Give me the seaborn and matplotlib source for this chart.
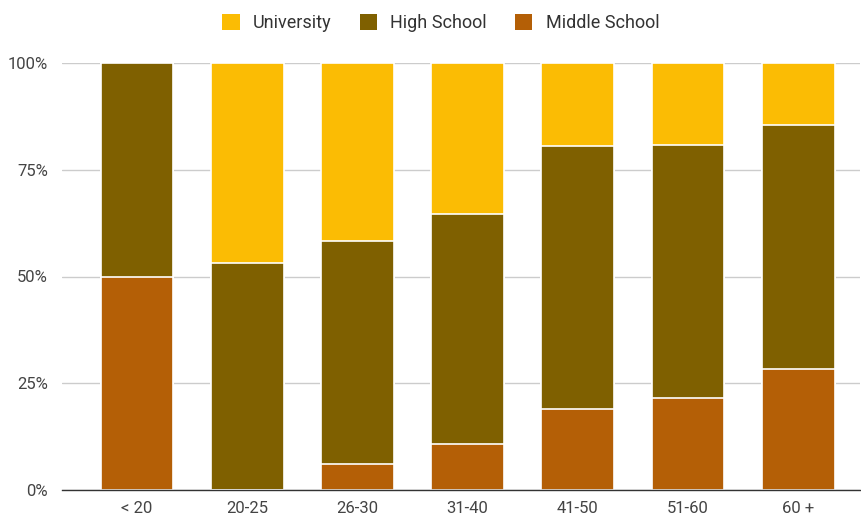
import matplotlib
matplotlib.use("Agg")
import matplotlib.pyplot as plt
import seaborn as sns
import pandas as pd
import numpy as np
from matplotlib.patches import Patch
from matplotlib.ticker import FuncFormatter

categories = ["< 20", "20-25", "26-30", "31-40", "41-50", "51-60", "60 +"]
middle_school = [50.0, 0.0, 6.1, 10.8, 19.0, 21.5, 28.3]
high_school = [50.0, 53.2, 52.2, 53.8, 61.6, 59.3, 57.2]
university = [0.0, 46.8, 41.7, 35.4, 19.4, 19.2, 14.5]
series_names = ["University", "High School", "Middle School"]
colors = {"University": "#FBBC04", "High School": "#7F6000", "Middle School": "#B45F06"}
yticks = [0, 25, 50, 75, 100]

sns.set_theme(style="white")
plt.rcParams["font.family"] = ["Roboto", "DejaVu Sans"]

ms = np.array(middle_school)
hs = ms + np.array(high_school)
un = hs + np.array(university)

df = pd.DataFrame({"cat": categories, "ms": ms, "hs": hs, "un": un})

fig = plt.figure(figsize=(8.61, 5.2), dpi=100)
ax = fig.add_axes([62 / 861, 30 / 520, (860 - 62) / 861, (490 - 63) / 520])

for col, name in [("un", "University"), ("hs", "High School"), ("ms", "Middle School")]:
    sns.barplot(data=df, x="cat", y=col, color=colors[name], width=0.66,
                edgecolor="white", linewidth=1.2, saturation=1, ax=ax, zorder=3)

ax.set_ylim(0, 100)
ax.set_xlim(-0.68, 6.56)
ax.set_yticks(yticks)
ax.yaxis.set_major_formatter(FuncFormatter(lambda v, p: f"{int(v)}%"))
ax.grid(axis="y", color="#cccccc", linewidth=1, zorder=0)
ax.set_axisbelow(True)
for s in ["top", "right", "left"]:
    ax.spines[s].set_visible(False)
ax.spines["bottom"].set_color("#333333")
ax.spines["bottom"].set_linewidth(1)
ax.spines["bottom"].set_zorder(5)
ax.set_xlabel("")
ax.set_ylabel("")
ax.tick_params(axis="both", length=0, labelsize=12, colors="#444444", pad=8)
ax.tick_params(axis="y", pad=10)

handles = [Patch(facecolor=colors[n], edgecolor="none", label=n) for n in series_names]
fig.legend(handles=handles, loc="upper center", bbox_to_anchor=(0.512, 1.004), ncol=3,
           frameon=False, fontsize=13, handlelength=0.95, handleheight=0.95,
           columnspacing=1.55, handletextpad=0.75, labelcolor="#333333")

fig.savefig("out.png", dpi=100)
